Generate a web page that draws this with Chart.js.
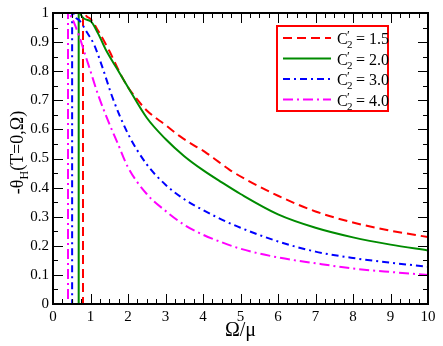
<!DOCTYPE html>
<html>
<head>
<meta charset="utf-8">
<script src="https://cdn.jsdelivr.net/npm/chart.js@4.4.0/dist/chart.umd.min.js"></script>
<style>
  html, body { margin: 0; padding: 0; background: #fff; }
  canvas { display: block; }
</style>
</head>
<body>
<canvas id="chart" width="443" height="346"></canvas>
<script>
// curve data (Omega/mu, -theta_H)
// first three points of each curve are the jump from 0 at the threshold
const redX = [0, 0.8, 0.8, 0.85, 1.0, 1.2, 1.5, 1.8, 2.0, 2.2, 2.5, 3.0, 3.4, 3.8, 4.05, 4.4, 4.7, 5.2, 6.0, 7.0, 8.0, 9.0, 10.0];
const redY = [0, 0, 1.04, 1.0, 0.98, 0.94, 0.87, 0.79, 0.745, 0.71, 0.665, 0.615, 0.575, 0.542, 0.523, 0.49, 0.462, 0.424, 0.372, 0.318, 0.28, 0.252, 0.23];

const greenX = [0, 0.685, 0.685, 0.72, 1.0, 1.2, 1.42, 1.7, 2.0, 2.5, 3.0, 3.5, 4.0, 4.5, 5.0, 6.0, 7.0, 8.0, 9.0, 10.0];
const greenY = [0, 0, 1.04, 1.0, 0.972, 0.93, 0.871, 0.81, 0.745, 0.64, 0.567, 0.508, 0.46, 0.418, 0.378, 0.308, 0.262, 0.229, 0.204, 0.184];

const blueX = [0, 0.51, 0.51, 0.55, 0.7, 0.9, 1.1, 1.3, 1.6, 2.0, 2.5, 3.0, 3.5, 4.0, 4.5, 5.0, 6.0, 7.0, 8.0, 9.0, 10.0];
const blueY = [0, 0, 1.04, 1.0, 0.975, 0.935, 0.89, 0.82, 0.705, 0.585, 0.48, 0.41, 0.36, 0.323, 0.29, 0.262, 0.215, 0.18, 0.158, 0.142, 0.128];

const magentaX = [0, 0.40, 0.40, 0.45, 0.55, 0.7, 0.85, 1.0, 1.2, 1.5, 1.7, 2.0, 2.5, 3.0, 3.5, 4.0, 4.5, 5.0, 6.0, 7.0, 8.0, 9.0, 10.0];
const magentaY = [0, 0, 1.04, 1.0, 0.97, 0.92, 0.86, 0.8, 0.72, 0.62, 0.56, 0.47, 0.378, 0.32, 0.272, 0.238, 0.212, 0.19, 0.16, 0.14, 0.122, 0.11, 0.1];

const seriesLabels = ['1.5', '2.0', '3.0', '4.0'];
const seriesColors = ['#ff0000', '#008b00', '#0000ff', '#ff00ff'];
const seriesDash = [[9, 5], [], [7, 4, 2, 4], [10, 4, 2, 4]];

const xTicks = [0, 1, 2, 3, 4, 5, 6, 7, 8, 9, 10];
const yTicks = [0, 0.1, 0.2, 0.3, 0.4, 0.5, 0.6, 0.7, 0.8, 0.9, 1];

const SERIF = "'Liberation Serif', 'DejaVu Serif', serif";

function toPoints(xs, ys) {
  return xs.map((x, i) => ({ x: x, y: ys[i] }));
}

const allX = [redX, greenX, blueX, magentaX];
const allY = [redY, greenY, blueY, magentaY];

const datasets = [];
allX.forEach((xs, i) => {
  const pts = toPoints(xs, allY[i]);
  const base = {
    borderColor: seriesColors[i],
    borderWidth: 2,
    borderDash: seriesDash[i],
    pointRadius: 0,
    fill: false,
    order: 4 - i
  };
  // step up at the threshold: straight lines
  datasets.push(Object.assign({}, base, { data: pts.slice(0, 3), tension: 0 }));
  // decaying branch: smooth
  datasets.push(Object.assign({}, base, { data: pts.slice(2), cubicInterpolationMode: 'monotone' }));
});

// inward ticks on all four sides, frame, legend, axis titles
const decorPlugin = {
  id: 'decor',
  afterDatasetsDraw(chart) {
    const ctx = chart.ctx;
    const area = chart.chartArea;
    const xs = chart.scales.x;
    const ys = chart.scales.y;
    ctx.save();

    // ticks
    ctx.strokeStyle = '#000';
    ctx.lineWidth = 1;
    ctx.beginPath();
    for (let v = 0; v <= 10.0001; v += 0.25) {
      const px = Math.round(xs.getPixelForValue(v)) + 0.5;
      const major = Math.abs(v - Math.round(v)) < 1e-6;
      const len = major ? 10 : 5;
      ctx.moveTo(px, area.bottom); ctx.lineTo(px, area.bottom - len);
      ctx.moveTo(px, area.top); ctx.lineTo(px, area.top + len);
    }
    for (let k = 0; k <= 20; k++) {
      const v = k * 0.05;
      const py = Math.round(ys.getPixelForValue(v)) + 0.5;
      const len = k % 2 === 0 ? 10 : 5;
      ctx.moveTo(area.left, py); ctx.lineTo(area.left + len, py);
      ctx.moveTo(area.right, py); ctx.lineTo(area.right - len, py);
    }
    ctx.stroke();

    // frame
    ctx.lineWidth = 2;
    ctx.strokeRect(area.left, area.top, area.right - area.left, area.bottom - area.top);

    // legend
    const bx = area.right - 151, by = area.top + 13, bw = 111, bh = 85;
    ctx.fillStyle = '#fff';
    ctx.fillRect(bx, by, bw, bh);
    ctx.strokeStyle = '#ff0000';
    ctx.lineWidth = 2;
    ctx.strokeRect(bx, by, bw, bh);
    for (let i = 0; i < seriesLabels.length; i++) {
      const ly = by + 12 + i * 20.5;
      ctx.strokeStyle = seriesColors[i];
      ctx.lineWidth = 2;
      ctx.setLineDash(seriesDash[i]);
      ctx.beginPath();
      ctx.moveTo(bx + 6, ly);
      ctx.lineTo(bx + 54, ly);
      ctx.stroke();
      ctx.setLineDash([]);
      ctx.fillStyle = '#000';
      ctx.textBaseline = 'alphabetic';
      ctx.textAlign = 'left';
      ctx.font = '16px ' + SERIF;
      const tx = bx + 60;
      ctx.fillText('C', tx, ly + 6);
      ctx.font = '13px ' + SERIF;
      ctx.fillText('\u2032', tx + 10, ly + 1);
      ctx.font = '11px ' + SERIF;
      ctx.fillText('2', tx + 10, ly + 10);
      ctx.font = '16px ' + SERIF;
      ctx.fillText('= ' + seriesLabels[i], tx + 19, ly + 6);
    }

    // x title
    ctx.fillStyle = '#000';
    ctx.font = '20px ' + SERIF;
    ctx.textAlign = 'center';
    ctx.fillText('\u03A9/\u03BC', (area.left + area.right) / 2, 336);

    // y title (rotated, with subscript H)
    ctx.translate(23, (area.top + area.bottom) / 2 - 6);
    ctx.rotate(-Math.PI / 2);
    ctx.textAlign = 'left';
    const a = '-\u03B8';
    const b = '(T=0,\u03A9)';
    ctx.font = '12px ' + SERIF;
    const wH = ctx.measureText('H').width;
    ctx.font = '18px ' + SERIF;
    const wa = ctx.measureText(a).width;
    const wb = ctx.measureText(b).width;
    const x0 = -(wa + wH + wb) / 2;
    ctx.fillText(a, x0, 0);
    ctx.font = '12px ' + SERIF;
    ctx.fillText('H', x0 + wa, 5);
    ctx.font = '18px ' + SERIF;
    ctx.fillText(b, x0 + wa + wH, 0);

    ctx.restore();
  }
};

new Chart(document.getElementById('chart').getContext('2d'), {
  type: 'line',
  data: { datasets: datasets },
  options: {
    responsive: false,
    animation: false,
    layout: { padding: { top: 12, right: 15, left: 0, bottom: 0 } },
    plugins: {
      legend: { display: false },
      tooltip: { enabled: false }
    },
    scales: {
      x: {
        type: 'linear',
        min: 0,
        max: 10,
        afterFit: (scale) => { scale.height = 42; },
        afterBuildTicks: (scale) => { scale.ticks = xTicks.map(v => ({ value: v })); },
        grid: { display: false, drawTicks: false },
        border: { display: false },
        ticks: {
          color: '#000',
          padding: 4,
          font: { family: SERIF, size: 15 },
          maxRotation: 0,
          callback: (v) => String(v)
        }
      },
      y: {
        type: 'linear',
        min: 0,
        max: 1,
        afterFit: (scale) => { scale.width = 53; },
        afterBuildTicks: (scale) => { scale.ticks = yTicks.map(v => ({ value: v })); },
        grid: { display: false, drawTicks: false },
        border: { display: false },
        ticks: {
          color: '#000',
          padding: 4,
          font: { family: SERIF, size: 15 },
          callback: (v) => String(Math.round(v * 10) / 10)
        }
      }
    }
  },
  plugins: [decorPlugin]
});
</script>
</body>
</html>
